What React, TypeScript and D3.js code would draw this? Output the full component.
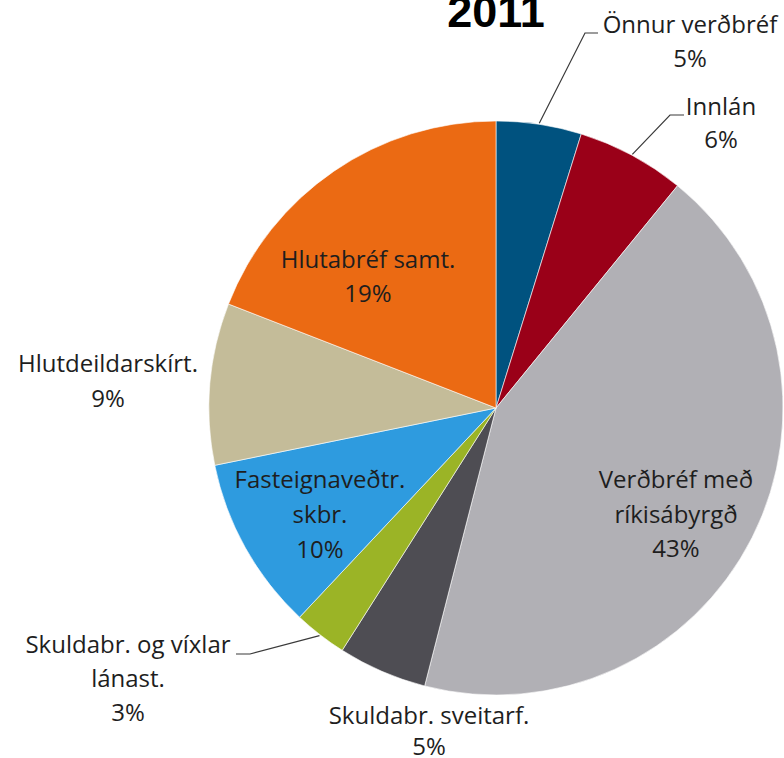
import React from "react";
import * as d3 from "d3";

const categories = [
  "Önnur verðbréf",
  "Innlán",
  "Verðbréf með ríkisábyrgð",
  "Skuldabr. sveitarf.",
  "Skuldabr. og víxlar lánast.",
  "Fasteignaveðtr. skbr.",
  "Hlutdeildarskírt.",
  "Hlutabréf samt.",
];
const values = [4.8, 6.1, 43.1, 5.0, 3.0, 9.8, 9.1, 19.1];
const title = "2011";

const colors = ["#00527F", "#9A0018", "#B1B0B5", "#4E4D53", "#9BB426", "#2E9BDF", "#C4BC99", "#EB6A13"];

// label layout: lines of text, anchor center x, first baseline y, line gap
const labelLines = [
  ["Önnur verðbréf"],
  ["Innlán"],
  ["Verðbréf með", "ríkisábyrgð"],
  ["Skuldabr. sveitarf."],
  ["Skuldabr. og víxlar", "lánast."],
  ["Fasteignaveðtr.", "skbr."],
  ["Hlutdeildarskírt."],
  ["Hlutabréf samt."],
];
const labelPos: [number, number, number][] = [
  [690, 33, 34],
  [721, 115, 33],
  [676, 488, 34.5],
  [429, 724, 30.5],
  [128, 653, 34],
  [320, 488, 35],
  [108, 372, 35],
  [368, 268, 34],
];
// leader: [xText, xElbow, y] or null
const leaders: ([number, number, number] | null)[] = [
  [598, 585, 33],
  [684, 670, 115],
  null,
  null,
  [236, 250, 654],
  null,
  null,
  null,
];

const W = 784;
const H = 758;
const cx = 496;
const cy = 408;
const R = 287;
const FONT = "'Open Sans', sans-serif";

export default function App() {
  const pie = d3.pie<number>().sort(null).value((d) => d);
  const arcs = pie(values);
  const arc = d3.arc<d3.PieArcDatum<number>>().innerRadius(0).outerRadius(R);
  const total = d3.sum(values);

  return (
    <svg width={W} height={H} style={{ position: "absolute", left: 0, top: 0, background: "#fff" }}>
      <text x={496} y={27} textAnchor="middle" fontFamily="'Liberation Sans', Arial, sans-serif" fontWeight="bold" fontSize={45} fill="#000">
        {title}
      </text>
      <g transform={`translate(${cx},${cy})`}>
        {arcs.map((a, i) => (
          <path key={i} d={arc(a) || ""} fill={colors[i]} stroke="#fff" strokeWidth={0.6} />
        ))}
      </g>
      {arcs.map((a, i) => {
        const l = leaders[i];
        if (!l) return null;
        const mid = (a.startAngle + a.endAngle) / 2;
        const px = cx + Math.sin(mid) * (R + 1);
        const py = cy - Math.cos(mid) * (R + 1);
        return (
          <polyline
            key={"l" + i}
            points={`${l[0]},${l[2]} ${l[1]},${l[2]} ${px},${py}`}
            fill="none"
            stroke="#3a3a3a"
            strokeWidth={1.2}
          />
        );
      })}
      {categories.map((c, i) => {
        const lines = [...labelLines[i], Math.round((values[i] / total) * 100) + "%"];
        const [x, y, lh] = labelPos[i];
        return (
          <text key={"t" + i} textAnchor="middle" fontFamily={FONT} fontSize={24} fill="#1e1e1e">
            {lines.map((s, j) => (
              <tspan key={j} x={x} y={y + j * lh}>
                {s}
              </tspan>
            ))}
          </text>
        );
      })}
    </svg>
  );
}
